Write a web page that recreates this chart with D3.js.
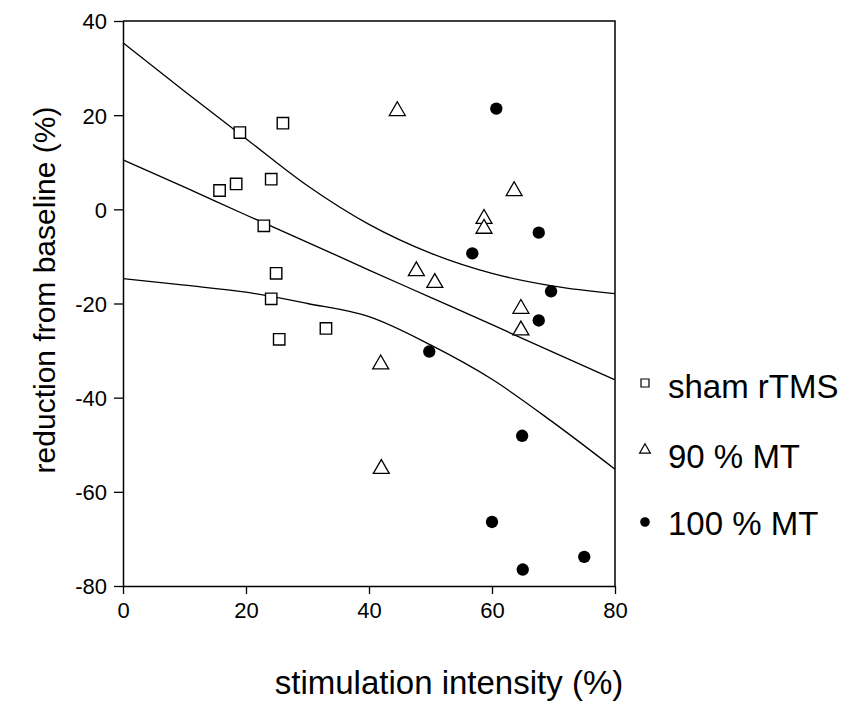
<!DOCTYPE html>
<html>
<head>
<meta charset="utf-8">
<script src="https://cdn.jsdelivr.net/npm/d3@7"></script>
<style>
  body { margin: 0; background: #fff; }
  text { font-family: Arial, "Liberation Sans", sans-serif; fill: #000; }
</style>
</head>
<body>
<svg id="chart" width="843" height="702"></svg>
<script>
// sham rTMS (squares)
var shamX = [19.0, 26.0, 15.7, 18.4, 24.1, 22.9, 24.9, 24.1, 25.4, 33.0];
var shamY = [16.3, 18.3, 4.0, 5.4, 6.4, -3.5, -13.6, -19.0, -27.6, -25.3];
// 90 % MT (triangles)
var mt90X = [44.6, 63.6, 58.7, 58.7, 47.7, 50.7, 64.7, 64.7, 41.9, 42.0];
var mt90Y = [20.9, 3.9, -2.0, -4.1, -13.1, -15.6, -21.1, -25.7, -32.9, -55.1];
// 100 % MT (filled circles)
var mt100X = [60.7, 67.6, 56.8, 69.6, 67.6, 49.8, 64.9, 60.0, 75.0, 65.0];
var mt100Y = [21.4, -4.95, -9.35, -17.4, -23.6, -30.2, -48.1, -66.4, -73.8, -76.5];

// regression line and confidence band
var curveX = [0, 10, 20, 30, 40, 50, 60, 70, 80];
var fitY   = [10.5, 4.7, -1.2, -7.0, -12.9, -18.7, -24.5, -30.4, -36.2];
var upperY = [35.4, 25.1, 15.0, 5.0, -3.2, -9.3, -13.6, -16.3, -17.9];
var lowerY = [-14.7, -16.1, -17.6, -20.0, -22.8, -28.8, -36.1, -45.3, -55.2];

var xTicks = [0, 20, 40, 60, 80];
var yTicks = [40, 20, 0, -20, -40, -60, -80];

var margin = {top: 21, left: 123};
var width = 492, height = 565;

var svg = d3.select('#chart').append('g')
  .attr('transform', 'translate(' + margin.left + ',' + margin.top + ')');

var x = d3.scaleLinear().domain([0, 80]).range([0, width]);
var y = d3.scaleLinear().domain([-80, 40]).range([height, 0]);

function zip(xs, ys) {
  return xs.map(function(v, i) { return {x: v, y: ys[i]} });
}
function plain(d) { return String(d) }

// frame
svg.append('path')
  .attr('d', 'M0,0H' + width + 'V' + height)
  .attr('fill', 'none')
  .attr('stroke', '#000')
  .attr('stroke-width', 1.5);

var xAxis = svg.append('g')
  .attr('transform', 'translate(0,' + height + ')')
  .call(d3.axisBottom(x).tickValues(xTicks).tickFormat(plain).tickSizeInner(8).tickSizeOuter(0).tickPadding(8));
var yAxis = svg.append('g')
  .call(d3.axisLeft(y).tickValues(yTicks).tickFormat(plain).tickSizeInner(9).tickSizeOuter(0).tickPadding(7));

[xAxis, yAxis].forEach(function(a) {
  a.select('.domain').attr('stroke-width', 1.5);
  a.selectAll('line').attr('stroke-width', 1.3);
  a.selectAll('text').style('font-size', '22px').attr('fill', '#000');
});
yAxis.selectAll('text').attr('dy', '0.36em');

var line = d3.line()
  .curve(d3.curveMonotoneX)
  .x(function(d) { return x(d.x) })
  .y(function(d) { return y(d.y) });

[fitY, upperY, lowerY].forEach(function(ys) {
  svg.append('path')
    .attr('d', line(zip(curveX, ys)))
    .attr('fill', 'none')
    .attr('stroke', '#000')
    .attr('stroke-width', 1.3);
});

var sq = d3.symbol().type(d3.symbolSquare).size(130);
var tri = d3.symbol().type(d3.symbolTriangle).size(110);
var dot = d3.symbol().type(d3.symbolCircle).size(120);

svg.selectAll('.sham')
  .data(zip(shamX, shamY))
  .enter().append('path')
    .attr('d', sq)
    .attr('transform', function(d) { return 'translate(' + x(d.x) + ',' + y(d.y) + ')' })
    .attr('fill', '#fff')
    .attr('stroke', '#000')
    .attr('stroke-width', 1.4);

svg.selectAll('.mt90')
  .data(zip(mt90X, mt90Y))
  .enter().append('path')
    .attr('d', tri)
    .attr('transform', function(d) { return 'translate(' + x(d.x) + ',' + y(d.y) + ')' })
    .attr('fill', '#fff')
    .attr('stroke', '#000')
    .attr('stroke-width', 1.3);

svg.selectAll('.mt100')
  .data(zip(mt100X, mt100Y))
  .enter().append('path')
    .attr('d', dot)
    .attr('transform', function(d) { return 'translate(' + x(d.x) + ',' + y(d.y) + ')' })
    .attr('fill', '#000');

// axis titles
d3.select('#chart').append('text')
  .attr('x', 449).attr('y', 694)
  .attr('text-anchor', 'middle')
  .style('font-size', '33px')
  .text('stimulation intensity (%)');

d3.select('#chart').append('text')
  .attr('transform', 'translate(55,290) rotate(-90)')
  .attr('text-anchor', 'middle')
  .style('font-size', '30px')
  .text('reduction from baseline (%)');

// legend
var legendLabels = ['sham rTMS', '90 % MT', '100 % MT'];
var legendSyms = [
  {sym: d3.symbol().type(d3.symbolSquare).size(64), fill: '#fff'},
  {sym: d3.symbol().type(d3.symbolTriangle).size(50), fill: '#fff'},
  {sym: d3.symbol().type(d3.symbolCircle).size(55), fill: '#000'}
];
var legendY = [383, 450, 522];

var lg = d3.select('#chart').selectAll('.legend')
  .data(legendLabels)
  .enter().append('g')
  .attr('transform', function(d, i) { return 'translate(645,' + legendY[i] + ')' });

lg.append('path')
  .attr('d', function(d, i) { return legendSyms[i].sym() })
  .attr('fill', function(d, i) { return legendSyms[i].fill })
  .attr('stroke', '#000')
  .attr('stroke-width', 1.2);

lg.append('text')
  .attr('x', 23)
  .attr('y', function(d, i) { return [15, 18, 13][i] })
  .style('font-size', '33px')
  .text(function(d) { return d });
</script>
</body>
</html>
